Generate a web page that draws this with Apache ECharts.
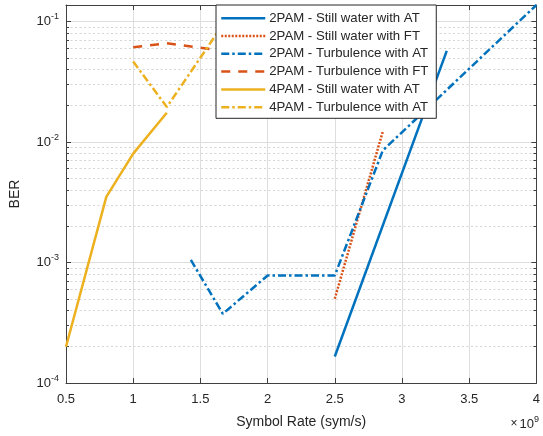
<!DOCTYPE html>
<html>
<head>
<meta charset="utf-8">
<script src="https://cdn.jsdelivr.net/npm/echarts@6/dist/echarts.min.js"></script>
<style>html,body{margin:0;padding:0;background:#fff;}#c{width:543px;height:436px;}</style>
</head>
<body>
<div id="c"></div>
<script>
// x values in units of 1e9 sym/s
const seriesNames = [
  '2PAM - Still water with AT',
  '2PAM - Still water with FT',
  '2PAM - Turbulence with AT',
  '2PAM - Turbulence with FT',
  '4PAM - Still water with AT',
  '4PAM - Turbulence with AT'
];
const stillAT2 = [[2.5, 1.66e-4], [3.333, 0.057]];
const stillFT2 = [[2.5, 5.0e-4], [2.857, 0.0122]];
const turbAT2  = [[1.429, 1.05e-3], [1.667, 3.75e-4], [2.0, 7.8e-4], [2.5, 7.8e-4], [2.857, 8.5e-3], [4.0, 0.137]];
const turbFT2  = [[1.0, 0.061], [1.25, 0.066], [1.667, 0.057]];
const stillAT4 = [[0.5, 2.0e-4], [0.8, 3.5e-3], [1.0, 8.0e-3], [1.25, 0.0175]];
const turbAT4  = [[1.0, 0.0465], [1.25, 0.0195], [1.667, 0.094]];
const xTicks = [0.5, 1, 1.5, 2, 2.5, 3, 3.5, 4];
const yMin = 1e-4, yMax = 0.137;

const FONT = 'Liberation Sans, Arial, Helvetica, sans-serif';
const TXT = '#262626';
const BLUE = '#0072BD', ORANGE = '#D95319', YELLOW = '#EDB120';
const DASHDOT = [8, 3, 2.5, 3];
const LW = 2.5;

function mk(name, data, color, type) {
  return {
    name: name, type: 'line', data: data, symbol: 'none', clip: true,
    lineStyle: { color: color, width: LW, type: type },
    itemStyle: { color: color },
    emphasis: { disabled: true }, animation: false
  };
}

const chart = echarts.init(document.getElementById('c'), null, { renderer: 'canvas' });
const yLabelFmt = function (v) {
  const e = Math.round(Math.log10(v));
  return '{b|10}{s|' + e + '}';
};
const rich = {
  b: { fontSize: 13, fontFamily: FONT, color: TXT },
  s: { fontSize: 9, fontFamily: FONT, color: TXT, verticalAlign: 'bottom', padding: [0, 0, 9, 0] }
};
chart.setOption({
  animation: false,
  backgroundColor: '#fff',
  grid: { left: 62, right: 4, top: 5, bottom: 53, containLabel: false },
  legend: {
    orient: 'vertical', left: 216, top: 5,
    data: seriesNames,
    itemWidth: 44, itemHeight: 14, itemGap: 4.8,
    padding: [6.7, 8, 4.6, 4],
    backgroundColor: '#fff', borderColor: '#262626', borderWidth: 1, borderRadius: 0,
    itemStyle: { opacity: 0, borderWidth: 0 },
    lineStyle: { width: LW },
    textStyle: { fontSize: 13.2, fontFamily: FONT, color: TXT, padding: [0, 0, 0, -1] },
    selectedMode: false
  },
  xAxis: [{
    type: 'value', min: xTicks[0], max: xTicks[xTicks.length - 1], interval: 0.5,
    name: 'Symbol Rate (sym/s)', nameLocation: 'middle', nameGap: 32,
    nameTextStyle: { fontSize: 14, fontFamily: FONT, color: TXT },
    axisLine: { show: true, onZero: false, lineStyle: { color: '#404040', width: 1 } },
    axisTick: { show: true, inside: true, length: 5, lineStyle: { color: '#404040' } },
    axisLabel: { fontSize: 13, fontFamily: FONT, color: TXT, margin: 10, formatter: function (v) { return String(v); } },
    splitLine: { show: true, lineStyle: { color: '#dedede', width: 1 } }
  }, {
    type: 'value', position: 'top', min: xTicks[0], max: xTicks[xTicks.length - 1], interval: 0.5,
    axisLine: { show: true, onZero: false, lineStyle: { color: '#404040', width: 1 } },
    axisTick: { show: true, inside: true, length: 5, lineStyle: { color: '#404040' } },
    axisLabel: { show: false }, splitLine: { show: false }
  }],
  yAxis: [{
    type: 'log', logBase: 10, min: yMin, max: yMax,
    name: 'BER', nameLocation: 'middle', nameGap: 44,
    nameTextStyle: { fontSize: 14, fontFamily: FONT, color: TXT },
    axisLine: { show: true, onZero: false, lineStyle: { color: '#404040', width: 1 } },
    axisTick: { show: true, inside: true, length: 5, lineStyle: { color: '#404040' } },
    minorTick: { show: true, splitNumber: 9, length: 3, lineStyle: { color: '#404040' } },
    axisLabel: { margin: 7, formatter: yLabelFmt, rich: rich, showMaxLabel: false },
    splitLine: { show: true, lineStyle: { color: '#dedede', width: 1 } },
    minorSplitLine: { show: true, lineStyle: { color: '#d4d4d4', width: 1, type: [2, 2.5] } }
  }, {
    type: 'log', logBase: 10, min: yMin, max: yMax, position: 'right',
    axisLine: { show: true, onZero: false, lineStyle: { color: '#404040', width: 1 } },
    axisTick: { show: true, inside: true, length: 5, lineStyle: { color: '#404040' } },
    minorTick: { show: true, splitNumber: 9, length: 3, lineStyle: { color: '#404040' } },
    axisLabel: { show: false }, splitLine: { show: false }
  }],
  graphic: [{
    type: 'text', right: 4, top: 415,
    style: {
      text: '{x|×}{b|10}{s|9}',
      rich: {
        x: { fontSize: 12, fontFamily: FONT, fill: TXT, padding: [0, 2, 0, 0] },
        b: { fontSize: 13, fontFamily: FONT, fill: TXT },
        s: { fontSize: 9, fontFamily: FONT, fill: TXT, verticalAlign: 'bottom', padding: [0, 0, 9, 0] }
      }
    }
  }],
  series: [
    mk(seriesNames[0], stillAT2, BLUE, 'solid'),
    mk(seriesNames[1], stillFT2, ORANGE, [2, 1.5]),
    mk(seriesNames[2], turbAT2, BLUE, DASHDOT),
    mk(seriesNames[3], turbFT2, ORANGE, [9, 8]),
    mk(seriesNames[4], stillAT4, YELLOW, 'solid'),
    mk(seriesNames[5], turbAT4, YELLOW, DASHDOT)
  ]
});
</script>
</body>
</html>
